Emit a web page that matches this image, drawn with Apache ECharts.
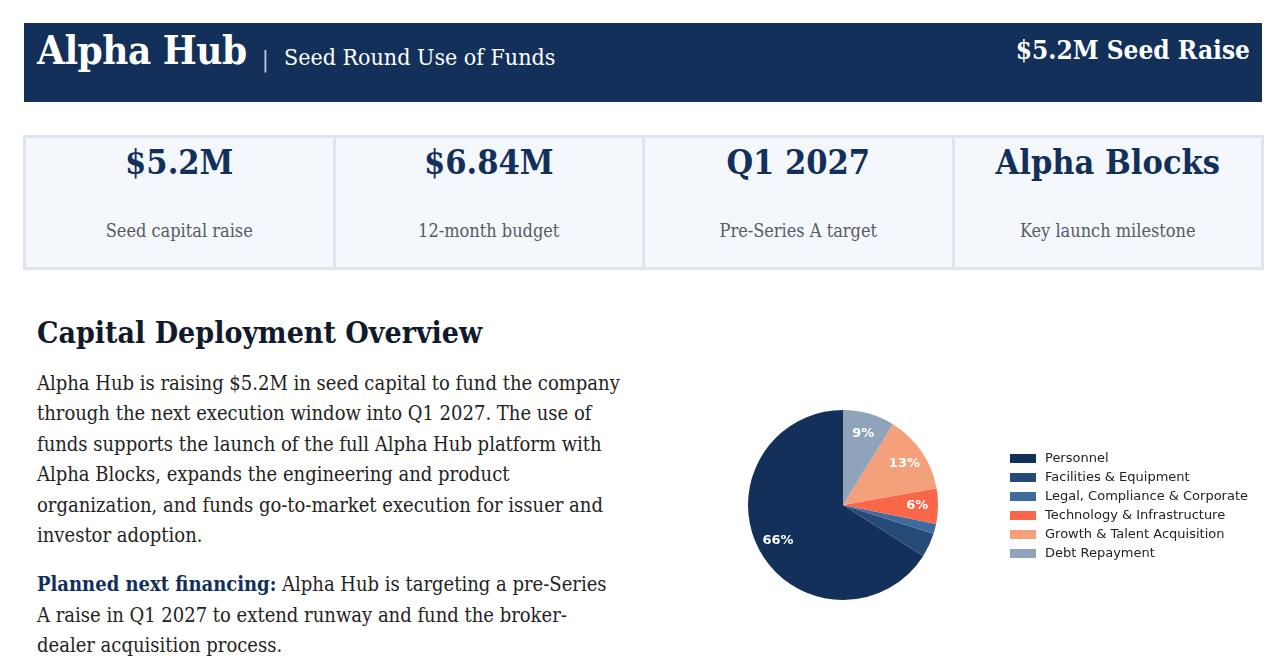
<!DOCTYPE html>
<html>
<head>
<meta charset="utf-8">
<script src="https://cdn.jsdelivr.net/npm/echarts@6/dist/echarts.min.js"></script>
<style>
  html, body { margin: 0; padding: 0; background: #fff; }
  body { width: 1285px; height: 667px; position: relative; overflow: hidden;
         font-family: 'DejaVu Serif', serif; font-stretch: condensed; }
  .header { position: absolute; left: 24px; top: 23px; width: 1238px; height: 79px; background: #12305a; color: #fff; }
  .header .brand { position: absolute; left: 13px; top: 3px; font-size: 40px; font-weight: bold; letter-spacing: -0.5px; }
  .header .sep { position: absolute; left: 238px; top: 24px; font-size: 22px; color: #c8d2e2; }
  .header .sub { position: absolute; left: 260px; top: 21px; font-size: 23px; }
  .header .raise { position: absolute; right: 12px; top: 12px; font-size: 26px; font-weight: bold; }
  .kpis { position: absolute; left: 23px; top: 135px; width: 1241px; height: 135px; display: flex; }
  .kpi { flex: 1; background: #f4f7fb; border: 3px solid #dde4f0; margin-left: -3px; position: relative; text-align: center; }
  .kpi:first-child { margin-left: 0; }
  .kpi .v { position: absolute; left: 0; right: 0; top: 4px; font-size: 34px; font-weight: bold; color: #12305a; }
  .kpi .l { position: absolute; left: 0; right: 0; top: 82px; font-size: 18px; color: #555b66; }
  .text { position: absolute; left: 37px; top: 315px; width: 585px; color: #222; }
  .text h2 { margin: 0; font-size: 30px; color: #111a2b; font-weight: bold; white-space: nowrap; }
  .text p { margin: 0; font-size: 20px; line-height: 30.4px; }
  .text p.first { margin-top: 18px; }
  .text p.second { margin-top: 19px; }
  .text b { color: #12305a; }
  #chart { position: absolute; left: 640px; top: 290px; width: 645px; height: 377px; }
</style>
</head>
<body>
<div class="header">
  <div class="brand">Alpha Hub</div>
  <div class="sep">|</div>
  <div class="sub">Seed Round Use of Funds</div>
  <div class="raise">$5.2M Seed Raise</div>
</div>
<div class="kpis">
  <div class="kpi"><div class="v">$5.2M</div><div class="l">Seed capital raise</div></div>
  <div class="kpi"><div class="v">$6.84M</div><div class="l">12-month budget</div></div>
  <div class="kpi"><div class="v">Q1 2027</div><div class="l">Pre-Series A target</div></div>
  <div class="kpi"><div class="v">Alpha Blocks</div><div class="l">Key launch milestone</div></div>
</div>
<div class="text">
  <h2>Capital Deployment Overview</h2>
  <p class="first">Alpha Hub is raising $5.2M in seed capital to fund the company through the next execution window into Q1 2027. The use of funds supports the launch of the full Alpha Hub platform with Alpha Blocks, expands the engineering and product organization, and funds go-to-market execution for issuer and investor adoption.</p>
  <p class="second"><b>Planned next financing:</b> Alpha Hub is targeting a pre-Series A raise in Q1 2027 to extend runway and fund the broker-dealer acquisition process.</p>
</div>
<div id="chart"></div>
<script>
// Use of funds categories and share of the budget (%)
var categories = ['Personnel', 'Facilities & Equipment', 'Legal, Compliance & Corporate',
                  'Technology & Infrastructure', 'Growth & Talent Acquisition', 'Debt Repayment'];
var allocationPct = [66.0, 4.1, 1.7, 6.0, 13.4, 8.8];
var sliceColors = ['#13305a', '#264a78', '#3d6b9e', '#fa6748', '#f4a07b', '#8fa3bb'];

var chartDom = document.getElementById('chart');
var myChart = echarts.init(chartDom);

var pieData = categories.map(function (name, i) {
    return { name: name, value: allocationPct[i], itemStyle: { color: sliceColors[i] } };
});

// labels sit at 0.75 of the radius, so an empty ring from r/2 to r carries them
var labelData = categories.map(function (name, i) {
    return { name: name + ' ', value: allocationPct[i] };
});

var option = {
    animation: false,
    legend: {
        orient: 'vertical',
        left: 365,
        top: 157,
        data: categories,
        icon: 'rect',
        itemWidth: 26,
        itemHeight: 9,
        itemGap: 6,
        selectedMode: false,
        textStyle: {
            fontFamily: 'DejaVu Sans',
            fontSize: 13,
            color: '#222',
            padding: [0, 0, 0, 4]
        }
    },
    series: [
        {
            type: 'pie',
            center: [203, 215],
            radius: 95,
            startAngle: 90,
            clockwise: false,
            silent: true,
            label: { show: false },
            labelLine: { show: false },
            data: pieData
        },
        {
            type: 'pie',
            center: [203, 215],
            radius: [47.5, 95],
            startAngle: 90,
            clockwise: false,
            silent: true,
            itemStyle: { color: 'rgba(0,0,0,0)' },
            label: {
                show: true,
                position: 'inside',
                color: '#fff',
                fontFamily: 'DejaVu Sans',
                fontWeight: 'bold',
                fontSize: 13,
                formatter: function (p) {
                    return p.percent >= 5 ? Math.round(p.percent) + '%' : '';
                }
            },
            labelLine: { show: false },
            data: labelData
        }
    ]
};

myChart.setOption(option);
</script>
</body>
</html>
